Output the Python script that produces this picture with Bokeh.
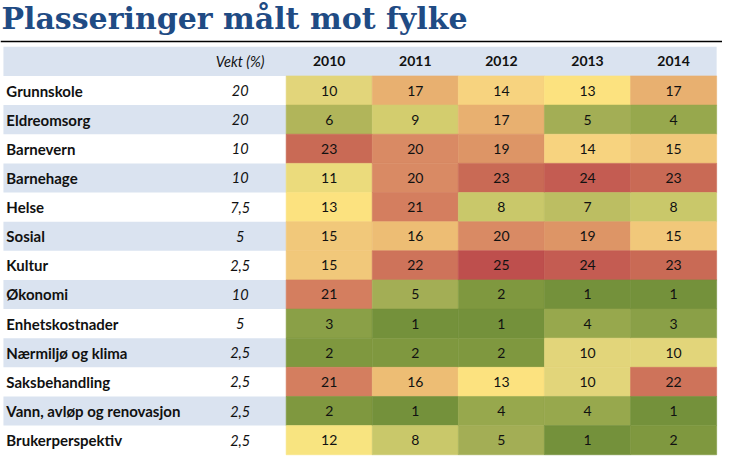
from bokeh.plotting import figure
from bokeh.models import Range1d, ColumnDataSource, LinearColorMapper, Span
from bokeh.transform import transform
from bokeh.core.properties import value
from bokeh.embed import file_html
from bokeh.resources import INLINE

title_text = "Plasseringer målt mot fylke"
weight_header = "Vekt (%)"
categories = ["Grunnskole", "Eldreomsorg", "Barnevern", "Barnehage", "Helse", "Sosial",
              "Kultur", "Økonomi", "Enhetskostnader", "Nærmiljø og klima",
              "Saksbehandling", "Vann, avløp og renovasjon", "Brukerperspektiv"]
weights = ["20", "20", "10", "10", "7,5", "5", "2,5", "10", "5", "2,5", "2,5", "2,5", "2,5"]
years = ["2010", "2011", "2012", "2013", "2014"]
rank_2010 = [10, 6, 23, 11, 13, 15, 15, 21, 3, 2, 21, 2, 12]
rank_2011 = [17, 9, 20, 20, 21, 16, 22, 5, 1, 2, 16, 1, 8]
rank_2012 = [14, 17, 19, 23, 8, 20, 25, 2, 1, 2, 13, 4, 5]
rank_2013 = [13, 5, 14, 24, 7, 19, 24, 1, 4, 10, 10, 4, 1]
rank_2014 = [17, 4, 15, 23, 8, 15, 23, 1, 3, 10, 22, 1, 2]
ranks_by_year = [rank_2010, rank_2011, rank_2012, rank_2013, rank_2014]

# colour scale: rank 1 (green) -> 13 (yellow) -> 25 (red)
palette = ["#74913B", "#7F983F", "#8AA047", "#97A84D", "#A3AE55", "#B1B55A", "#BCBE62",
           "#C9C86A", "#D3CD6E", "#E2D57A", "#EBDB7C", "#F8E480", "#FCE27F", "#F7D37F",
           "#F1C87A", "#EDBD74", "#E8B070", "#E2A26B", "#DD9566", "#D98A64", "#D47E5F",
           "#CE735A", "#C96A55", "#C45C52", "#BE4F4D"]
mapper = LinearColorMapper(palette=palette, low=0.5, high=25.5)

BAND = "#DAE3F0"
TXT = "#111111"
FONT = "Lato"

# layout (data units: one heat column = 1, one row = 1)
LEFT = -3.284
RIGHT = 5.0
XMIN, XMAX = -3.318, 5.068
YTOP, YBOT = -2.59, 13.06

p = figure(width=722, height=456, output_backend="svg", toolbar_location=None,
           x_range=Range1d(XMIN, XMAX), y_range=Range1d(YBOT, YTOP),
           min_border=0, outline_line_color=None, background_fill_color="white")
p.axis.visible = False
p.grid.visible = False

n = len(categories)

# header band
p.quad(left=[LEFT], right=[RIGHT], top=[-1.0], bottom=[0.0], fill_color=BAND, line_color=None)
# alternating label bands
band_rows = [i for i in range(n) if i % 2 == 1]
p.quad(left=[LEFT] * len(band_rows), right=[0.0] * len(band_rows),
       top=band_rows, bottom=[i + 1 for i in band_rows], fill_color=BAND, line_color=None)

# heat cells
xs, ys, rs, ls = [], [], [], []
for j, col in enumerate(ranks_by_year):
    for i, r in enumerate(col):
        xs.append(j + 0.5)
        ys.append(i + 0.5)
        rs.append(r)
        ls.append(str(r))
src = ColumnDataSource(dict(x=xs, y=ys, rank=rs, label=ls))
p.rect(x="x", y="y", width=1, height=1, source=src,
       fill_color=transform("rank", mapper), line_color=transform("rank", mapper), line_width=0.6)
p.text(x="x", y="y", text="label", source=src, text_align="center", text_baseline="middle",
       text_font=value(FONT), text_font_size="14px", text_color=TXT)

# header texts
p.text(x=[j + 0.5 for j in range(len(years))], y=[-0.5] * len(years), text=years,
       text_align="center", text_baseline="middle", text_font=value(FONT),
       text_font_size="14px", text_font_style="bold", text_color=TXT)
WX = -0.534
p.text(x=[WX], y=[-0.5], text=[weight_header], text_align="center", text_baseline="middle",
       text_font=value(FONT), text_font_size="14.5px", text_font_style="italic", text_color=TXT)

# row labels and weights
p.text(x=[-3.25] * n, y=[i + 0.5 for i in range(n)], text=categories, text_align="left",
       text_baseline="middle", text_font=value(FONT), text_font_size="15px",
       text_font_style="bold", text_color=TXT)
p.text(x=[WX] * n, y=[i + 0.5 for i in range(n)], text=weights, text_align="center",
       text_baseline="middle", text_font=value(FONT), text_font_size="14.5px",
       text_font_style="italic", text_color=TXT)

# title and rule
p.text(x=[-3.307], y=[-1.98], text=[title_text], text_align="left", text_baseline="alphabetic",
       text_font=value("DejaVu Serif"), text_font_size="30px", text_font_style="bold",
       text_color="#1F4B84")
p.add_layout(Span(location=-1.187, dimension="width", line_color="black", line_width=1.5))

open("out.html", "w").write(file_html(p, INLINE))
